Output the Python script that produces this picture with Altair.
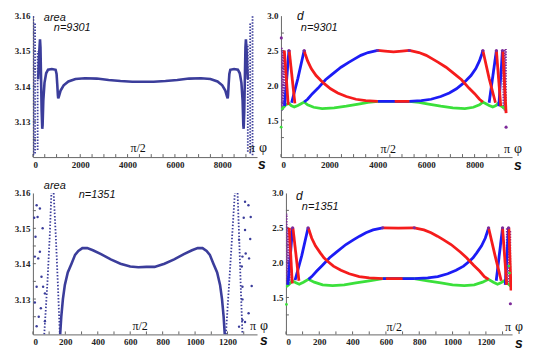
import altair as alt
import pandas as pd

NAVY = "#3b3d9b"
BLUE = "#1c1cf5"
RED = "#f51c1c"
GREEN = "#3be03b"
PURPLE = "#7d2a9a"
AXIS_C = "#666666"

# ---------------- top-left: area, n=9301 ----------------
A_LINE = [(220, 3.1420), (270, 3.1500), (300, 3.1533), (320, 3.1510), (345, 3.1420), (370, 3.1330),
          (395, 3.1280), (410, 3.1290), (440, 3.1360), (490, 3.1410), (560, 3.1437), (640, 3.1447),
          (800, 3.1449), (960, 3.1447), (1000, 3.1435), (1030, 3.1405), (1055, 3.1375), (1070, 3.1366),
          (1100, 3.1372), (1170, 3.1388), (1300, 3.1403), (1500, 3.1414), (1800, 3.1421), (2200, 3.1423),
          (2700, 3.1422), (3200, 3.1418), (3700, 3.1415), (4200, 3.1413), (4651, 3.1413), (5100, 3.1413),
          (5600, 3.1415), (6100, 3.1418), (6600, 3.1422), (7100, 3.1423), (7500, 3.1421), (7800, 3.1414),
          (8000, 3.1403), (8130, 3.1388), (8200, 3.1372), (8230, 3.1366), (8245, 3.1375), (8270, 3.1405),
          (8300, 3.1435), (8340, 3.1447), (8500, 3.1449), (8660, 3.1447), (8740, 3.1437), (8810, 3.1410),
          (8860, 3.1360), (8890, 3.1290), (8905, 3.1280), (8930, 3.1330), (8955, 3.1420), (8980, 3.1510),
          (9000, 3.1533), (9030, 3.1500), (9080, 3.1420)]
A_COLS = [(20, 3.1205, 3.1598), (90, 3.1210, 3.1580), (200, 3.1220, 3.1500),
          (9080, 3.1215, 3.1520), (9180, 3.1210, 3.1580), (9280, 3.1205, 3.1598)]
A_XLAB = [0, 2000, 4000, 6000, 8000]
A_XMIN = [0, 500, 1000, 1500, 2000, 2500, 3000, 3500, 4000, 4500, 5000, 5500, 6000, 6500, 7000, 7500, 8000, 8500, 9000]
A_YLAB = [3.13, 3.14, 3.15, 3.16]
A_YMIN = [3.125, 3.13, 3.135, 3.14, 3.145, 3.15, 3.155]

# ---------------- bottom-left: area, n=1351 ----------------
C_LINE = [(168, 3.1200), (175, 3.1250), (185, 3.1300), (197, 3.1340), (215, 3.1375), (238, 3.1400),
          (260, 3.1425), (280, 3.1436), (305, 3.1444), (335, 3.1444), (370, 3.1438), (420, 3.1427),
          (480, 3.1412), (540, 3.1400), (600, 3.1392), (650, 3.1390), (700, 3.1391), (750, 3.1391),
          (811, 3.1400), (871, 3.1412), (931, 3.1427), (981, 3.1438), (1016, 3.1444), (1046, 3.1444),
          (1071, 3.1436), (1091, 3.1425), (1113, 3.1400), (1136, 3.1375), (1154, 3.1340), (1166, 3.1300),
          (1176, 3.1250), (1183, 3.1200)]
C_BRANCH = {
    "l1": [(70, 3.1200), (90, 3.1350), (104, 3.1480), (114, 3.1600)],
    "l2": [(128, 3.1600), (142, 3.1470), (155, 3.1330), (166, 3.1200)],
    "r1": [(1190, 3.1200), (1208, 3.1330), (1226, 3.1460), (1245, 3.1600)],
    "r2": [(1262, 3.1600), (1272, 3.1470), (1282, 3.1330), (1292, 3.1200)],
}
C_DOTS = [(12, 3.1420), (16, 3.1476), (23, 3.1565), (29, 3.1532), (33, 3.1415), (43, 3.1556),
          (43, 3.1434), (53, 3.1363), (63, 3.1335), (23, 3.1335), (74, 3.1316), (23, 3.1223),
          (74, 3.1237), (49, 3.1274), (12, 3.1290), (36, 3.1250), (60, 3.1500), (8, 3.1530),
          (1308, 3.1575), (1329, 3.1565), (1343, 3.1532), (1308, 3.1495), (1312, 3.1429), (1333, 3.1415),
          (1292, 3.1420), (1288, 3.1392), (1349, 3.1337), (1292, 3.1335), (1292, 3.1299), (1292, 3.1241),
          (1308, 3.1235), (1271, 3.1222), (1271, 3.1468), (1330, 3.1260), (1340, 3.1470), (1300, 3.1530)]
C_XLAB = [0, 200, 400, 600, 800, 1000, 1200]
C_XMIN = [0, 100, 200, 300, 400, 500, 600, 700, 800, 900, 1000, 1100, 1200, 1300]

# ---------------- top-right: d, n=9301 ----------------
B_BLUE = {
    "b1": [(150, 1.70), (330, 2.50)],
    "b2": [(440, 1.75), (700, 2.10), (959, 2.50)],
    "b3": [(959, 1.76), (1100, 1.80), (1300, 1.88), (1535, 1.96), (1840, 2.08), (2086, 2.15), (2482, 2.26),
           (2800, 2.33), (3045, 2.38), (3300, 2.43), (3600, 2.47), (4000, 2.50)],
    "b4": [(4000, 1.77), (5301, 1.77)],
    "b5": [(5301, 1.77), (5800, 1.78), (6200, 1.80), (6600, 1.84), (6955, 1.89), (7250, 1.95), (7500, 2.02),
           (7650, 2.07), (7850, 2.14), (8050, 2.24), (8200, 2.35), (8300, 2.45), (8342, 2.50)],
    "b6": [(8600, 1.75), (8900, 2.50)],
    "b7": [(9000, 1.70), (9150, 2.50)],
}
B_RED = {
    "r1": [(140, 2.50), (300, 1.72)],
    "r2": [(340, 2.50), (576, 1.74)],
    "r3": [(959, 2.50), (1001, 2.45), (1101, 2.35), (1251, 2.24), (1451, 2.14), (1651, 2.07), (1801, 2.02),
           (2051, 1.95), (2346, 1.89), (2701, 1.84), (3101, 1.80), (3501, 1.78), (4000, 1.77)],
    "r4": [(4000, 2.50), (4300, 2.49), (4650, 2.48), (5000, 2.49), (5301, 2.50)],
    "r5": [(4700, 1.77), (5301, 1.77)],
    "r6": [(5301, 2.50), (5701, 2.47), (6001, 2.43), (6256, 2.38), (6501, 2.33), (6819, 2.26), (7215, 2.15),
           (7461, 2.08), (7766, 1.96), (8001, 1.88), (8201, 1.80), (8342, 1.76)],
    "r7": [(8342, 2.50), (8600, 2.10), (8861, 1.75)],
    "r8": [(8900, 2.50), (9080, 1.70)],
    "r9": [(9160, 2.50), (9301, 1.60)],
}
B_GREEN = {"g": [(0, 1.65), (100, 1.68), (200, 1.72), (330, 1.74), (420, 1.71), (550, 1.69), (700, 1.71),
                 (850, 1.74), (959, 1.76), (1100, 1.72), (1350, 1.685), (1700, 1.665), (2200, 1.675),
                 (2700, 1.70), (3200, 1.73), (3600, 1.755), (4000, 1.77), (5301, 1.77), (5700, 1.755),
                 (6100, 1.73), (6600, 1.70), (7100, 1.675), (7600, 1.665), (7950, 1.685), (8200, 1.72),
                 (8342, 1.76), (8450, 1.74), (8600, 1.71), (8750, 1.69), (8880, 1.71), (8970, 1.74),
                 (9100, 1.70), (9200, 1.68), (9301, 1.65)]}
B_PCOLS = [(30, 1.63, 2.55), (80, 1.65, 2.50), (130, 1.68, 2.50),
           (9190, 1.66, 2.50), (9240, 1.64, 2.52), (9290, 1.62, 2.52)]
B_PDOTS = [(330, 2.50), (959, 2.50), (4000, 2.50), (5301, 2.50), (8342, 2.50), (8900, 2.50),
           (9150, 2.50), (15, 2.68), (9301, 1.40)]
B_GDOTS = [(8, 1.40)]

# ---------------- bottom-right: d, n=1351 ----------------
D_BLUE = {
    "b1": [(12, 1.68), (40, 2.50)],
    "b2": [(55, 1.75), (95, 2.10), (133, 2.50)],
    "b3": [(135, 1.76), (155, 1.80), (185, 1.88), (218, 1.96), (262, 2.07), (303, 2.15), (360, 2.26),
           (407, 2.33), (442, 2.38), (480, 2.43), (523, 2.47), (581, 2.50)],
    "b4": [(581, 1.77), (770, 1.77)],
    "b5": [(770, 1.77), (851, 1.78), (911, 1.80), (971, 1.84), (1021, 1.89), (1066, 1.95), (1101, 2.02),
           (1123, 2.07), (1145, 2.14), (1174, 2.24), (1196, 2.35), (1210, 2.45), (1216, 2.50)],
    "b6": [(1262, 1.74), (1300, 2.50)],
    "b7": [(1316, 1.68), (1336, 2.50)],
}
D_RED = {
    "r1": [(20, 2.50), (38, 1.70)],
    "r2": [(42, 2.50), (78, 1.74)],
    "r3": [(135, 2.50), (141, 2.45), (155, 2.35), (177, 2.24), (206, 2.14), (228, 2.07), (250, 2.02),
           (285, 1.95), (330, 1.89), (380, 1.84), (440, 1.80), (500, 1.78), (581, 1.77)],
    "r4": [(581, 2.50), (675, 2.495), (770, 2.50)],
    "r5": [(600, 1.77), (700, 1.77)],
    "r6": [(770, 2.50), (828, 2.47), (871, 2.43), (909, 2.38), (944, 2.33), (991, 2.26), (1048, 2.15),
           (1084, 2.07), (1128, 1.96), (1162, 1.88), (1191, 1.80), (1216, 1.76)],
    "r7": [(1216, 2.50), (1255, 2.10), (1292, 1.74)],
    "r8": [(1300, 2.50), (1325, 1.68)],
    "r9": [(1338, 2.50), (1351, 1.60)],
}
D_GREEN = {"g": [(0, 1.65), (15, 1.68), (40, 1.74), (60, 1.71), (80, 1.69), (105, 1.72), (135, 1.76),
                 (170, 1.72), (220, 1.68), (280, 1.67), (350, 1.68), (420, 1.71), (500, 1.74), (581, 1.77),
                 (770, 1.77), (850, 1.74), (930, 1.71), (1000, 1.68), (1070, 1.67), (1130, 1.68),
                 (1180, 1.72), (1215, 1.76), (1245, 1.72), (1270, 1.69), (1290, 1.71), (1310, 1.74),
                 (1330, 1.70), (1351, 1.66)]}
D_PCOLS = [(4, 1.65, 2.70), (12, 1.67, 2.50), (22, 1.70, 2.50),
           (1326, 1.70, 2.50), (1336, 1.68, 2.48), (1346, 1.66, 2.46)]
D_PDOTS = [(40, 2.50), (133, 2.50), (581, 2.50), (770, 2.50), (1216, 2.50), (1300, 2.50),
           (1336, 2.50), (1347, 1.41)]
D_GDOTS = [(3, 1.40), (1338, 1.95), (1342, 1.85)]

D_YLAB = [1.5, 2.0, 2.5, 3.0]
D_YMIN = [1.25, 1.5, 1.75, 2.0, 2.25, 2.5, 2.75]


def pts_df(pts):
    return pd.DataFrame({"s": [p[0] for p in pts], "v": [p[1] for p in pts]})


def seg_df(segs):
    rows = []
    for k, pts in segs.items():
        for s, v in pts:
            rows.append({"seg": k, "s": s, "v": v})
    return pd.DataFrame(rows)


def cols_df(cols):
    return pd.DataFrame({"s": [c[0] for c in cols], "v": [c[1] for c in cols], "hi": [c[2] for c in cols]})


def txt(text, x, y, size, font, style="normal", weight="normal"):
    return alt.Chart(pd.DataFrame({"t": [text]})).mark_text(
        align="left", baseline="middle", fontSize=size, font=font, fontStyle=style,
        fontWeight=weight, color="#111111"
    ).encode(x=alt.value(x), y=alt.value(y), text="t:N")


def frame(xmax, ydom, xlab, xmin, ylab, ymin, yfmt, w, h):
    xe = alt.X("s:Q", scale=alt.Scale(domain=[0, xmax], nice=False, zero=False),
               axis=alt.Axis(values=xlab, tickCount=len(xlab) + 2, format="d", title=None,
                             labelOverlap=False))
    ye = alt.Y("v:Q", scale=alt.Scale(domain=ydom, nice=False, zero=False),
               axis=alt.Axis(values=ylab, tickCount=len(ylab) + 2, format=yfmt, title=None,
                             labelOverlap=False))
    xt = alt.Chart(pd.DataFrame({"s": xmin})).mark_rule(color=AXIS_C, strokeWidth=1).encode(
        x=xe, y=alt.value(h), y2=alt.value(h - 3))
    yt = alt.Chart(pd.DataFrame({"v": ymin})).mark_rule(color=AXIS_C, strokeWidth=1).encode(
        y=ye, x=alt.value(0), x2=alt.value(3))
    return [xt, yt]


def phi_labels(px2, pxpi, pxphi, py, pxs, pys):
    return [txt("π/2", px2, py, 12, "Liberation Serif"),
            txt("π", pxpi, py, 12, "Liberation Serif"),
            txt("φ", pxphi, py, 14, "Liberation Serif"),
            txt("s", pxs, pys, 14, "Liberation Sans", "italic", "bold")]


def area_panel(line, xmax, xlab, xmin, w, h, cols=None, branches=None, dots=None, texts=()):
    layers = frame(xmax, [3.12, 3.16], xlab, xmin, A_YLAB, A_YMIN, ".2f", w, h)
    if cols is not None:
        layers.append(alt.Chart(cols_df(cols)).mark_rule(
            color=NAVY, strokeWidth=1.8, strokeDash=[1.5, 1.5], clip=True).encode(
            x="s:Q", y="v:Q", y2="hi:Q"))
    if branches is not None:
        layers.append(alt.Chart(seg_df(branches)).mark_line(
            color=NAVY, strokeWidth=1.8, strokeDash=[1.5, 1.8], clip=True).encode(
            x="s:Q", y="v:Q", detail="seg:N"))
    if dots is not None:
        layers.append(alt.Chart(pts_df(dots)).mark_circle(
            color=NAVY, size=6, opacity=1, clip=True).encode(x="s:Q", y="v:Q"))
    layers.append(alt.Chart(pts_df(line)).mark_line(
        color=NAVY, strokeWidth=2.6, clip=True).encode(x="s:Q", y="v:Q"))
    layers.extend(texts)
    return alt.layer(*layers).properties(width=w, height=h)


def d_panel(blue, red, green, pcols, pdots, gdots, xmax, xlab, xmin, w, h, texts=()):
    layers = frame(xmax, [0.97, 3.0], xlab, xmin, D_YLAB, D_YMIN, ".1f", w, h)
    layers.append(alt.Chart(cols_df(pcols)).mark_rule(
        color=PURPLE, strokeWidth=2, strokeDash=[1.5, 1.2], clip=True).encode(
        x="s:Q", y="v:Q", y2="hi:Q"))
    for segs, col in ((green, GREEN), (blue, BLUE), (red, RED)):
        layers.append(alt.Chart(seg_df(segs)).mark_line(
            color=col, strokeWidth=2.8, clip=True).encode(x="s:Q", y="v:Q", detail="seg:N"))
    layers.append(alt.Chart(pts_df(gdots)).mark_circle(color=GREEN, size=8, opacity=1).encode(
        x="s:Q", y="v:Q"))
    layers.append(alt.Chart(pts_df(pdots)).mark_circle(color=PURPLE, size=10, opacity=1).encode(
        x="s:Q", y="v:Q"))
    layers.extend(texts)
    return alt.layer(*layers).properties(width=w, height=h)


H = 142
pA = area_panel(A_LINE, 9470, A_XLAB, A_XMIN, 225, H, cols=A_COLS,
                texts=[txt("area", 11, 2, 11, "Liberation Sans", "italic"),
                       txt("n=9301", 21, 12.5, 11, "Liberation Sans", "italic")]
                + phi_labels(98, 217, 227, 133, 226, 150))
pC = area_panel(C_LINE, 1382, C_XLAB, C_XMIN, 225, H, branches=C_BRANCH, dots=C_DOTS,
                texts=[txt("area", 11, -7, 11, "Liberation Sans", "italic"),
                       txt("n=1351", 46, 2, 11, "Liberation Sans", "italic")]
                + phi_labels(100, 218, 228, 134, 228, 149))
pB = d_panel(B_BLUE, B_RED, B_GREEN, B_PCOLS, B_PDOTS, B_GDOTS, 9547, A_XLAB, A_XMIN, 232, H,
             texts=[txt("d", 16, 0, 12, "Liberation Sans", "italic"),
                    txt("n=9301", 20, 12, 11, "Liberation Sans", "italic")]
             + phi_labels(100, 224, 234, 134, 234, 151))
pD = d_panel(D_BLUE, D_RED, D_GREEN, D_PCOLS, D_PDOTS, D_GDOTS, 1357, C_XLAB, C_XMIN, 227, H,
             texts=[txt("d", 10, 3, 12, "Liberation Sans", "italic"),
                    txt("n=1351", 16, 14, 11, "Liberation Sans", "italic")]
             + phi_labels(101, 220, 230, 135, 230, 152))

row1 = alt.hconcat(pA, pB, spacing=24, bounds="flush")
row2 = alt.hconcat(pC, pD, spacing=29, bounds="flush")
chart = alt.vconcat(row1, row2, spacing=7).properties(
    padding={"left": 6, "top": 1, "right": 2, "bottom": 2}
).configure_view(stroke=None).configure_axis(
    domainColor=AXIS_C, domainWidth=1, tickSize=0, grid=False,
    labelFont="Liberation Serif", labelFontWeight="bold", labelFontSize=9,
    labelColor="#222222", labelPadding=3, labelOverlap=False
)

chart.save("out.html", embed_options={"renderer": "svg", "actions": False})
